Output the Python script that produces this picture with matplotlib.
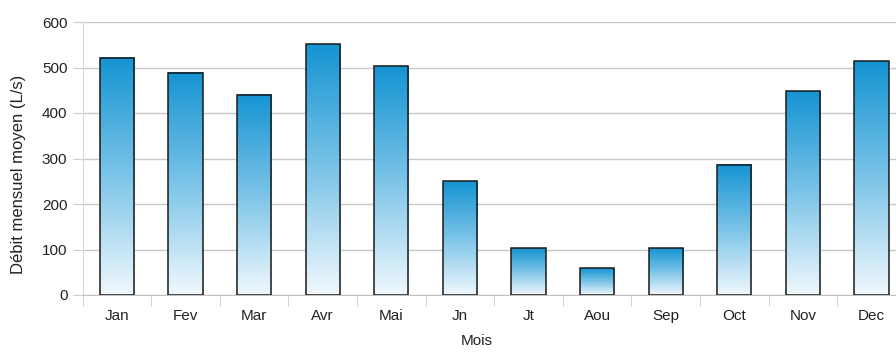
import matplotlib
matplotlib.use("Agg")
import matplotlib.pyplot as plt
import numpy as np
from matplotlib.colors import LinearSegmentedColormap

mois = ["Jan", "Fev", "Mar", "Avr", "Mai", "Jn", "Jt", "Aou", "Sep", "Oct", "Nov", "Dec"]
debit = [521, 488, 440, 551, 503, 250, 103, 59, 103, 286, 448, 514]

plt.rcParams["font.family"] = ["Liberation Sans", "DejaVu Sans"]

fig = plt.figure(figsize=(8.96, 3.52), dpi=100)
# right edge of the plot runs slightly past the image, as in the reference
ax = fig.add_axes([82.7 / 896, 57 / 352, 823 / 896, 273 / 352])

x = np.arange(len(mois))
bars = ax.bar(x, debit, width=0.5, facecolor="none", edgecolor="#1a1a1a",
              linewidth=1.1, zorder=3)

cmap = LinearSegmentedColormap.from_list("bleu", ["#f0f8fd", "#7cc4e8", "#1594d2"])
grad = np.linspace(0, 1, 256).reshape(-1, 1)
for b in bars:
    x0, y0 = b.get_x(), b.get_y()
    w, h = b.get_width(), b.get_height()
    ax.imshow(grad, cmap=cmap, aspect="auto", origin="lower",
              extent=(x0, x0 + w, y0, y0 + h), zorder=2, interpolation="bilinear")

ax.set_xlim(-0.5, len(mois) - 0.5)
ax.set_ylim(0, 600)
ax.set_yticks(range(0, 601, 100))
ax.set_xticks(x)
ax.set_xticklabels(mois)
ax.set_xticks(np.arange(-0.5, len(mois), 1), minor=True)
ax.tick_params(axis="x", which="major", length=0, pad=10, labelsize=11, colors="#222222")
ax.tick_params(axis="x", which="minor", length=8, color="#cccccc", direction="out")
ax.tick_params(axis="y", length=7, pad=4, labelsize=11, colors="#222222")
ax.tick_params(axis="y", color="#cccccc")

ax.grid(axis="y", color="#c8c8c8", linewidth=1, zorder=0)
for s in ["top", "right"]:
    ax.spines[s].set_visible(False)
ax.spines["left"].set_color("#d8d8d8")
ax.spines["bottom"].set_color("#c0c0c0")

ax.set_xlabel("Mois", fontsize=11, color="#222222")
ax.set_ylabel("Débit mensuel moyen (L/s)", fontsize=12, color="#222222")
ax.xaxis.set_label_coords(0.479, -0.142)
ax.yaxis.set_label_coords(-0.069, 0.443)

fig.savefig("out.png", dpi=100)
